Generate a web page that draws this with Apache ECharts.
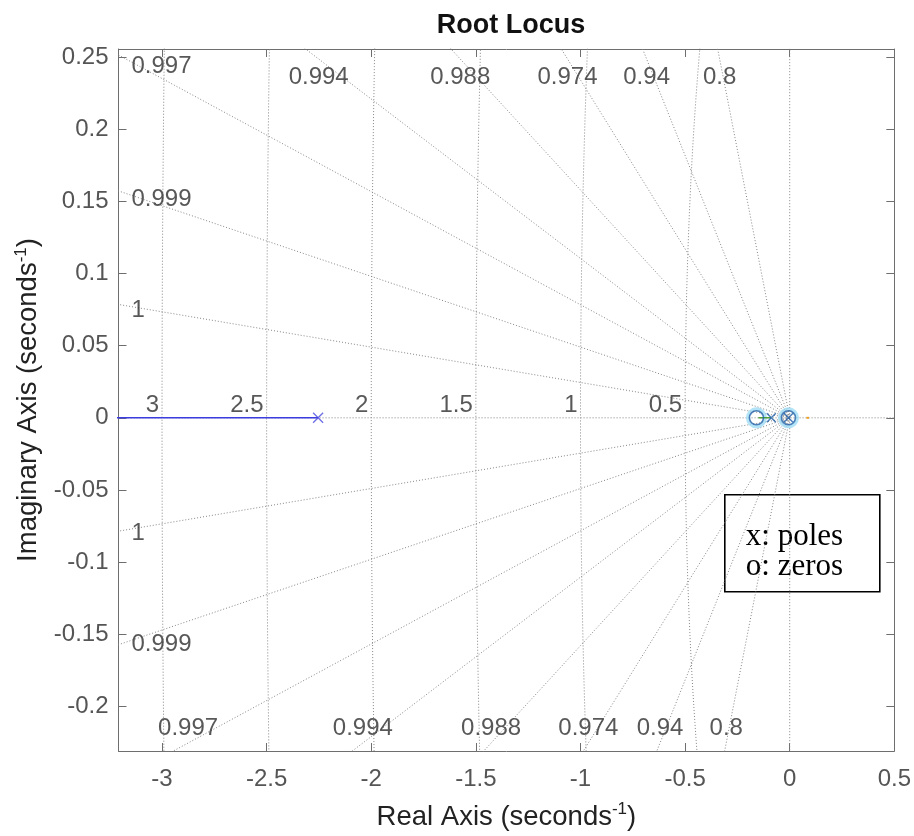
<!DOCTYPE html>
<html>
<head>
<meta charset="utf-8">
<script src="https://cdn.jsdelivr.net/npm/echarts@6/dist/echarts.min.js"></script>
<style>
html,body{margin:0;padding:0;background:#fff;}
#chart{width:914px;height:836px;}
</style>
</head>
<body>
<div id="chart"></div>
<script>
// ---- data ----
const realTicks = [-3, -2.5, -2, -1.5, -1, -0.5, 0, 0.5];
const imagTicks = [-0.2, -0.15, -0.1, -0.05, 0, 0.05, 0.1, 0.15, 0.2, 0.25];
const realRange = [-3.208, 0.5];
const imagRange = [-0.231, 0.2557];
const dampingRatios = [0.9997, 0.9988, 0.99694, 0.99395, 0.98775, 0.97364, 0.93975, 0.8027];
const dampingLabels = ['1', '0.999', '0.997', '0.994', '0.988', '0.974', '0.94', '0.8'];
const naturalFreqs = [0.5, 1, 1.5, 2, 2.5, 3];
const naturalFreqLabels = ['0.5', '1', '1.5', '2', '2.5', '3'];
const poles = [[-2.254, 0], [-0.088, 0], [-0.006, 0]];
const zeros = [[-0.159, 0], [-0.006, 0]];
const locusBlue = [[-3.3, 0], [-2.254, 0]];
const locusGreen = [[-0.150, 0], [-0.090, 0]];
const locusOrange = [[0.080, 0], [0.092, 0]];

// ---- layout ----
const G = {left: 118.5, right: 19, top: 49, bottom: 84};
const plotH = 836 - G.top - G.bottom;
const yPerPx = (imagRange[1] - imagRange[0]) / plotH;

const gridColor = '#858585';
const gridStyle = {color: gridColor, width: 1, type: [1, 2]};
const series = [];

// natural-frequency semicircles
naturalFreqs.forEach(function (wn) {
  const pts = [];
  for (let k = 0; k <= 180; k++) {
    const th = Math.PI / 2 + Math.PI * k / 180;
    pts.push([wn * Math.cos(th), wn * Math.sin(th)]);
  }
  series.push({type: 'line', data: pts, showSymbol: false, symbol: 'none', silent: true,
    lineStyle: gridStyle, clip: true, z: 1, animation: false});
});

// damping rays
const slopes = dampingRatios.map(function (z) { return Math.sqrt(1 - z * z) / z; });
slopes.forEach(function (s) {
  [1, -1].forEach(function (sg) {
    series.push({type: 'line', data: [[0, 0], [-5, sg * s * 5]], symbol: 'none', silent: true,
      lineStyle: gridStyle, clip: true, z: 1, animation: false});
  });
});
// zeta = 1 and zeta = 0 lines
series.push({type: 'line', data: [[-5, 0], [1, 0]], symbol: 'none', silent: true, lineStyle: gridStyle, clip: true, z: 1, animation: false});
series.push({type: 'line', data: [[0, -1], [0, 1]], symbol: 'none', silent: true, lineStyle: gridStyle, clip: true, z: 1, animation: false});

// damping labels
const centerLabels = [], leftLabels = [];
const xLeftLab = realRange[0] + 13 * (realRange[1] - realRange[0]) / (914 - G.left - G.right);
slopes.forEach(function (s, i) {
  [1, -1].forEach(function (sg) {
    const yEdge = sg > 0 ? imagRange[1] : imagRange[0];
    const xAtEdge = -Math.abs(yEdge) / s;
    if (xAtEdge >= realRange[0]) {
      const yRef = Math.abs(yEdge) - (sg > 0 ? 10 : 8) * yPerPx;
      const yLab = sg > 0 ? imagRange[1] - 28 * yPerPx : imagRange[0] + 23 * yPerPx;
      centerLabels.push([-yRef / s, yLab, dampingLabels[i]]);
    } else {
      leftLabels.push([xLeftLab, sg * s * Math.abs(xLeftLab) - 4 * yPerPx, dampingLabels[i]]);
    }
  });
});
const labelFont = {fontSize: 24, color: '#2e2e2e', fontFamily: 'Liberation Sans, Arial, sans-serif'};
series.push({type: 'scatter', data: centerLabels, symbolSize: 0, silent: true, z: 3, animation: false,
  label: Object.assign({show: true, position: 'inside', formatter: function (p) { return p.value[2]; }}, labelFont)});
series.push({type: 'scatter', data: leftLabels, symbolSize: 0, silent: true, z: 3, animation: false,
  label: Object.assign({show: true, position: 'right', distance: 0, formatter: function (p) { return p.value[2]; }}, labelFont)});
// natural frequency labels
const wnLab = naturalFreqs.map(function (wn, i) { return [-wn, 12 * yPerPx, naturalFreqLabels[i]]; });
series.push({type: 'scatter', data: wnLab, symbolSize: 0, silent: true, z: 3, animation: false,
  label: Object.assign({show: true, position: 'left', distance: 3, formatter: function (p) { return p.value[2]; }}, labelFont)});

// locus branches
series.push({type: 'line', data: locusBlue, symbol: 'none', lineStyle: {color: '#3c3ce0', width: 1.5}, clip: true, z: 5, animation: false});
series.push({type: 'line', data: locusGreen, symbol: 'none', lineStyle: {color: '#4fa03a', width: 1.5}, clip: true, z: 5, animation: false});
series.push({type: 'line', data: locusOrange, symbol: 'none', lineStyle: {color: '#f0a020', width: 2}, clip: true, z: 5, animation: false});

// poles and zeros
const xPath = 'path://M0,0L10,10M10,0L0,10';
series.push({type: 'scatter', data: zeros, symbol: 'circle', symbolSize: 18, silent: true, z: 4, animation: false,
  itemStyle: {color: 'rgba(0,0,0,0)', borderColor: '#9fdcf4', borderWidth: 3}});
series.push({type: 'scatter', data: zeros, symbol: 'circle', symbolSize: 14, silent: true, z: 6, animation: false,
  itemStyle: {color: 'rgba(0,0,0,0)', borderColor: '#1f5fa8', borderWidth: 1.6}});
series.push({type: 'scatter', data: poles.slice(0, 1), symbol: xPath, symbolSize: 10, silent: true, z: 6, animation: false,
  itemStyle: {color: 'none', borderColor: '#4a4ae0', borderWidth: 1.3}});
series.push({type: 'scatter', data: poles.slice(1), symbol: xPath, symbolSize: 9, silent: true, z: 6, animation: false,
  itemStyle: {color: 'none', borderColor: '#1f5fa8', borderWidth: 1.5}});

const axisFont = 'Liberation Sans, Arial, sans-serif';
const axisLineCol = '#6e6e6e';
function xAx(pos, withLabels) {
  return {type: 'value', position: pos, min: realRange[0], max: realRange[1],
    axisLine: {show: true, onZero: false, lineStyle: {color: axisLineCol, width: 1}},
    axisTick: {show: true, inside: true, length: 8, customValues: realTicks, lineStyle: {color: axisLineCol}},
    axisLabel: {show: withLabels, customValues: realTicks, margin: 16, fontSize: 24, color: '#555', fontFamily: axisFont,
      formatter: function (v) { return String(v); }},
    splitLine: {show: false},
    name: withLabels ? 'Real Axis (seconds{sup|-1})' : '', nameLocation: 'middle', nameGap: 50,
    nameTextStyle: {fontSize: 27.5, color: '#222', fontFamily: axisFont,
      rich: {sup: {fontSize: 17, color: '#222', fontFamily: axisFont, padding: [0, 0, 15, 0]}}}};
}
function yAx(pos, withLabels) {
  return {type: 'value', position: pos, min: imagRange[0], max: imagRange[1],
    axisLine: {show: true, onZero: false, lineStyle: {color: axisLineCol, width: 1}},
    axisTick: {show: true, inside: true, length: 8, customValues: imagTicks, lineStyle: {color: axisLineCol}},
    axisLabel: {show: withLabels, customValues: imagTicks, margin: 10, fontSize: 24, color: '#555', fontFamily: axisFont,
      formatter: function (v) { return String(v); }},
    splitLine: {show: false},
    name: withLabels ? 'Imaginary Axis (seconds{sup|-1})' : '', nameLocation: 'middle', nameGap: 66,
    nameTextStyle: {fontSize: 27.5, color: '#222', fontFamily: axisFont,
      rich: {sup: {fontSize: 17, color: '#222', fontFamily: axisFont, padding: [0, 0, 15, 0]}}}};
}

const option = {
  backgroundColor: '#fff',
  animation: false,
  title: {text: 'Root Locus', left: 506, top: 7, textAlign: 'center',
    textStyle: {fontSize: 27, fontWeight: 'bold', color: '#111', fontFamily: axisFont}},
  grid: {left: G.left, right: G.right, top: G.top, bottom: G.bottom, containLabel: false},
  xAxis: [xAx('bottom', true), xAx('top', false)],
  yAxis: [yAx('left', true), yAx('right', false)],
  series: series,
  graphic: [{
    type: 'group', left: 724, top: 494, children: [
      {type: 'rect', shape: {x: 0, y: 0, width: 155, height: 97}, style: {fill: '#fff', stroke: '#000', lineWidth: 1.6}},
      {type: 'text', x: 21, y: 42, style: {text: 'x: poles', font: '31px "Liberation Serif", "Times New Roman", serif', fill: '#000', textVerticalAlign: 'middle'}},
      {type: 'text', x: 21, y: 72, style: {text: 'o: zeros', font: '31px "Liberation Serif", "Times New Roman", serif', fill: '#000', textVerticalAlign: 'middle'}}
    ]
  }]
};
const chart = echarts.init(document.getElementById('chart'));
chart.setOption(option);
</script>
</body>
</html>
